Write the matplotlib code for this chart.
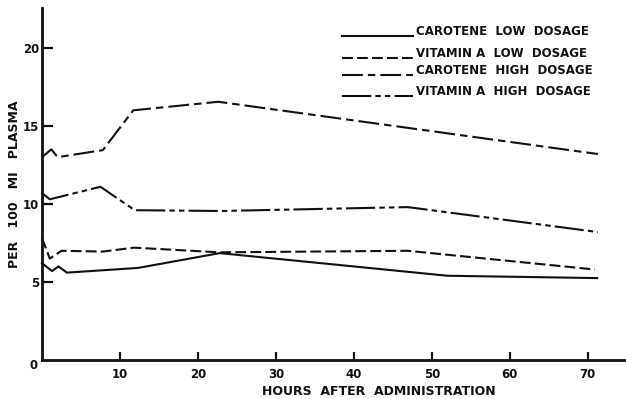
import matplotlib.pyplot as plt

# plasma level per 100 ml after administration (hours)
car_low_h = [0, 1.3, 2.1, 3.2, 12.3, 22.8, 52, 71.2]
car_low = [6.2, 5.7, 6.0, 5.6, 5.9, 6.85, 5.4, 5.25]

vita_low_h = [0, 1.0, 2.5, 7.8, 11.8, 22.8, 46.9, 70.9]
vita_low = [7.8, 6.5, 7.0, 6.95, 7.2, 6.9, 7.0, 5.8]

car_high_h = [0, 1.2, 2.0, 7.8, 11.7, 22.6, 71.3]
car_high = [13.0, 13.5, 13.0, 13.45, 16.0, 16.55, 13.2]

vita_high_h = [0, 1.0, 7.5, 11.9, 23, 46.9, 71.3]
vita_high = [10.7, 10.3, 11.1, 9.6, 9.55, 9.8, 8.2]

labels = ["CAROTENE  LOW  DOSAGE", "VITAMIN A  LOW  DOSAGE",
          "CAROTENE  HIGH  DOSAGE", "VITAMIN A  HIGH  DOSAGE"]
styles = ["-", (0, (5.2, 2.0)), (0, (10, 2.4, 3.6, 2.4)),
          (0, (14, 2, 2.6, 2, 2.6, 2))]

plt.rcParams["font.family"] = "DejaVu Sans"
plt.rcParams["font.weight"] = "bold"
plt.rcParams["axes.labelweight"] = "bold"

fig = plt.figure(figsize=(6.26, 3.99), dpi=100)
ax = fig.add_axes([42 / 626, 39 / 399, 584 / 626, 352 / 399])

series = [(car_low_h, car_low), (vita_low_h, vita_low),
          (car_high_h, car_high), (vita_high_h, vita_high)]
ink = "#111111"
for (h, v), ls in zip(series, styles):
    ax.plot(h, v, color=ink, lw=1.5, linestyle=ls, clip_on=False)

ax.set_xlim(0, 74.9)
ax.set_ylim(0, 22.56)
for side in ["top", "right"]:
    ax.spines[side].set_visible(False)
for side in ["left", "bottom"]:
    ax.spines[side].set_linewidth(2)
    ax.spines[side].set_color(ink)

ax.set_xticks([10, 20, 30, 40, 50, 60, 70])
ax.set_yticks([5, 10, 15, 20])
ax.tick_params(axis="x", direction="in", length=6, width=1.6, pad=6,
               labelsize=8.5, colors=ink)
ax.tick_params(axis="y", direction="in", length=8, width=1.6, pad=2,
               labelsize=8.5, colors=ink)
ax.text(-0.007, -0.017, "0", transform=ax.transAxes, ha="right", va="center",
        fontsize=8.5, color=ink)

ax.set_xlabel("HOURS  AFTER  ADMINISTRATION", fontsize=9, color=ink)
ax.xaxis.set_label_coords(0.577, -0.072)
ax.set_ylabel("PER   100   MI   PLASMA", fontsize=9, color=ink)
ax.yaxis.set_label_coords(-0.036, 0.5)

# key in the upper right
key_x0, key_x1, text_x = 0.514, 0.635, 0.64
key_rows = [0.92, 0.858, 0.81, 0.75]
for lab, ls, y in zip(labels, styles, key_rows):
    ax.plot([key_x0, key_x1], [y, y], transform=ax.transAxes, color=ink,
            lw=1.5, linestyle=ls, clip_on=False)
    ax.text(text_x, y - 0.005, lab, transform=ax.transAxes, ha="left",
            va="bottom", fontsize=8.5, color=ink)

fig.savefig("out.png", dpi=100)
